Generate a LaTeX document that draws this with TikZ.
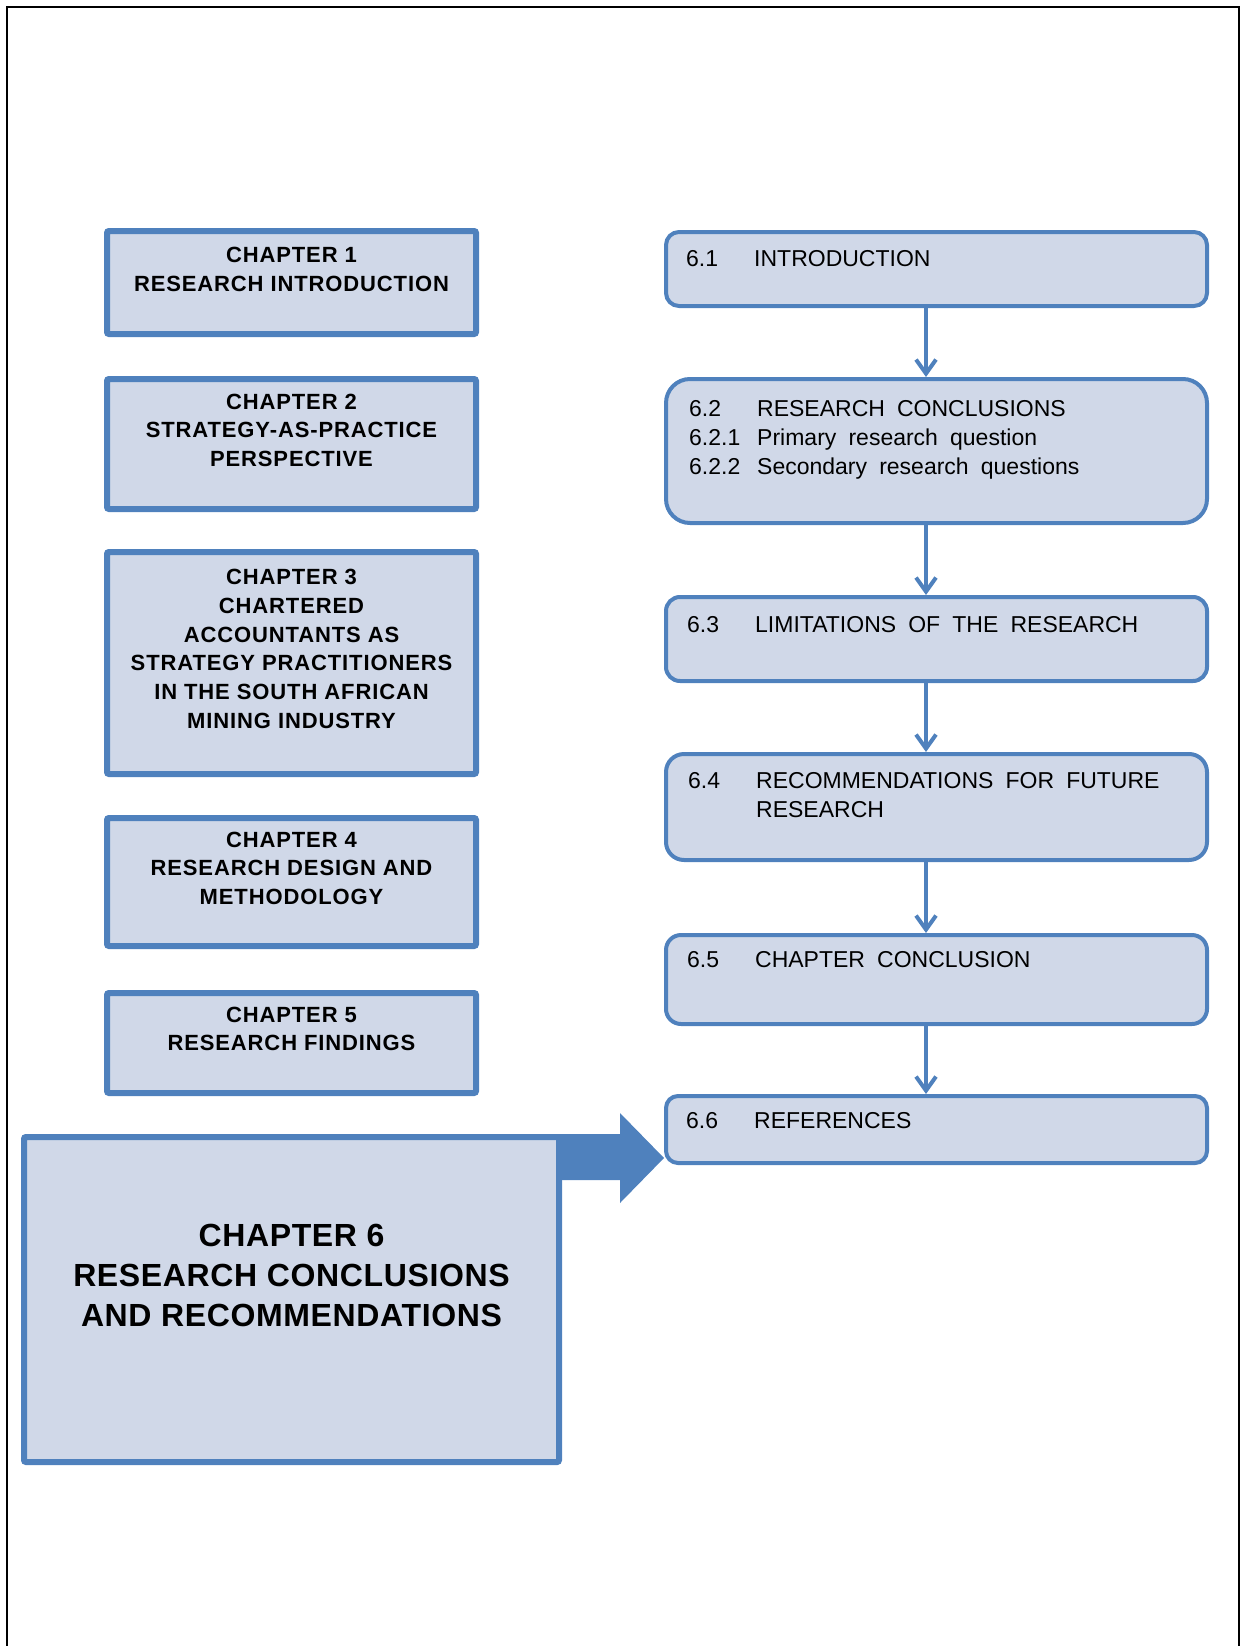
\documentclass[tikz,border=0pt]{standalone}
\usepackage{fontspec}
\setmainfont{Liberation Sans}
\newfontfamily\chapfont[LetterSpace=4]{Liberation Sans}
\newfontfamily\bigchapfont[LetterSpace=2]{Liberation Sans}
\newfontfamily\secfont[WordSpace=1.9]{Liberation Sans}
\usetikzlibrary{arrows.meta,calc}
\definecolor{boxfill}{HTML}{D0D8E8}
\definecolor{boxline}{HTML}{4F81BD}

\begin{document}
\begin{tikzpicture}[x=1pt,y=-1pt,
  chapbox/.style={draw=boxline,fill=boxfill,line width=6pt,rounded corners=2pt,
    minimum width=369pt,inner sep=0pt},
  chaptext/.style={anchor=north,inner sep=0pt,align=center,
    font=\chapfont\bfseries\fontsize{22pt}{28.8pt}\selectfont},
  secbox/.style={draw=boxline,fill=boxfill,line width=4pt,rounded corners=#1,
    minimum width=541pt,inner sep=0pt},
  sectext/.style={anchor=north west,inner sep=0pt,align=left,
    font=\secfont\fontsize{23pt}{29pt}\selectfont},
  flow/.style={draw=boxline,line width=4pt,
    -{Straight Barb[length=14pt,width=20pt]}},
]
\useasboundingbox (0,0) rectangle (1240,1646);

% page frame (open at the bottom)
\draw[line width=2pt] (7,1646) -- (7,7) -- (1239,7) -- (1239,1646);

% ---- chapter column ----
\node[chapbox,minimum height=103pt] (ch1) at (291.5,282.5) {};
\node[chaptext] (t1) at (291.5,247) {CHAPTER 1\\RESEARCH INTRODUCTION};

\node[chapbox,minimum height=130pt] (ch2) at (291.5,444) {};
\node[chaptext] (t2) at (291.5,393.5) {CHAPTER 2\\STRATEGY-AS-PRACTICE\\PERSPECTIVE};

\node[chapbox,minimum height=222pt] (ch3) at (291.5,663) {};
\node[chaptext] (t3) at (291.5,569) {CHAPTER 3\\CHARTERED\\ACCOUNTANTS AS\\STRATEGY PRACTITIONERS\\IN THE SOUTH AFRICAN\\MINING INDUSTRY};

\node[chapbox,minimum height=128pt] (ch4) at (291.5,882) {};
\node[chaptext] (t4) at (291.5,831.5) {CHAPTER 4\\RESEARCH DESIGN AND\\METHODOLOGY};

\node[chapbox,minimum height=100pt] (ch5) at (291.5,1043) {};
\node[chaptext] (t5) at (291.5,1006.5) {CHAPTER 5\\RESEARCH FINDINGS};

% ---- section column ----
\node[secbox=13pt,minimum height=74pt] (s61) at (936.5,269) {};
\node[sectext] (u61) at (686,250.5) {\makebox[68pt][l]{6.1}INTRODUCTION};

\node[secbox=24pt,minimum height=144pt] (s62) at (936.5,451) {};
\node[sectext] (u62) at (689,400.5) {\makebox[68pt][l]{6.2}RESEARCH CONCLUSIONS\\
  \makebox[68pt][l]{6.2.1}Primary research question\\
  \makebox[68pt][l]{6.2.2}Secondary research questions};

\node[secbox=14pt,minimum height=84pt] (s63) at (936.5,639) {};
\node[sectext] (u63) at (687,616.5) {\makebox[68pt][l]{6.3}LIMITATIONS OF THE RESEARCH};

\node[secbox=18pt,minimum height=106pt] (s64) at (936.5,807) {};
\node[sectext] (u64) at (688,772.5) {\makebox[68pt][l]{6.4}RECOMMENDATIONS FOR FUTURE\\
  \makebox[68pt][l]{}RESEARCH};

\node[secbox=15pt,minimum height=89pt] (s65) at (936.5,979.5) {};
\node[sectext] (u65) at (687,951.5) {\makebox[68pt][l]{6.5}CHAPTER CONCLUSION};

\node[secbox=12pt,minimum height=67pt] (s66) at (936.5,1129.5) {};
\node[sectext] (u66) at (686,1112.5) {\makebox[68pt][l]{6.6}REFERENCES};

% flow between sections
\draw[flow] ($(s61.south)+(-10.5,0)$) -- ($(s62.north)+(-10.5,0)$);
\draw[flow] ($(s62.south)+(-10.5,0)$) -- ($(s63.north)+(-10.5,0)$);
\draw[flow] ($(s63.south)+(-10.5,0)$) -- ($(s64.north)+(-10.5,0)$);
\draw[flow] ($(s64.south)+(-10.5,0)$) -- ($(s65.north)+(-10.5,0)$);
\draw[flow] ($(s65.south)+(-10.5,0)$) -- ($(s66.north)+(-10.5,0)$);

% ---- current chapter with block arrow ----
\node[chapbox,minimum width=535pt,minimum height=325pt] (ch6) at (291.5,1299.5) {};
\node[chaptext,font=\bigchapfont\bfseries\fontsize{32pt}{40pt}\selectfont] (t6)
  at (291.5,1224) {CHAPTER 6\\RESEARCH CONCLUSIONS\\AND RECOMMENDATIONS};
\coordinate (tip) at ($(s66.south west)+(0,-7)$);
\fill[boxline] (ch6.north east) -- (620,1134) -- (620,1113) -- (tip)
  -- (620,1203) -- (620,1180) -- (556,1180) -- (556,1134) -- cycle;
\end{tikzpicture}
\end{document}
